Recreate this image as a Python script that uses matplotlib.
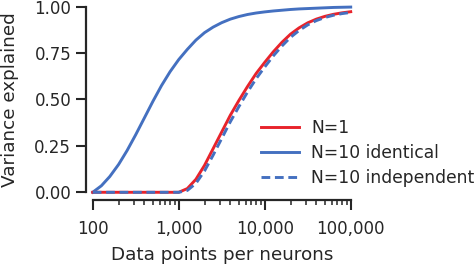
import numpy as np
import matplotlib.pyplot as plt
from matplotlib.ticker import FuncFormatter, LogLocator, NullFormatter

# data points per neuron (log spaced samples)
points = [100, 126, 158, 200, 251, 316, 398, 501, 631, 794,
          1000, 1259, 1585, 1995, 2512, 3162, 3981, 5012, 6310, 7943,
          10000, 12589, 15849, 19953, 25119, 31623, 39811, 50119, 63096, 79433,
          100000]

var_n1 = [0, 0, 0, 0, 0, 0, 0, 0, 0, 0,
          0, 0.02, 0.07, 0.145, 0.235, 0.325, 0.415, 0.495, 0.57, 0.64,
          0.70, 0.757, 0.808, 0.852, 0.886, 0.913, 0.933, 0.948, 0.959, 0.967,
          0.973]

var_n10_identical = [0, 0.035, 0.085, 0.15, 0.225, 0.31, 0.40, 0.49, 0.575, 0.65,
                     0.715, 0.77, 0.82, 0.86, 0.89, 0.914, 0.933, 0.947, 0.958, 0.966,
                     0.972, 0.977, 0.981, 0.985, 0.988, 0.99, 0.992, 0.994, 0.996, 0.997,
                     0.998]

var_n10_independent = [0, 0, 0, 0, 0, 0, 0, 0, 0, 0,
                       0, 0.01, 0.048, 0.115, 0.2, 0.29, 0.38, 0.462, 0.54, 0.612,
                       0.675, 0.735, 0.788, 0.835, 0.872, 0.902, 0.925, 0.942, 0.954, 0.963,
                       0.969]

labels = ['N=1', 'N=10 identical', 'N=10 independent']
y_ticks = [0, 0.25, 0.5, 0.75, 1.0]
x_ticks = [100, 1000, 10000, 100000]

red = '#e8232b'
blue = '#4470c0'
txt = '#262626'

plt.rcParams['font.family'] = 'DejaVu Sans'
plt.rcParams['font.size'] = 12

fig = plt.figure(figsize=(4.74, 2.68), dpi=100)
ax = fig.add_axes([0.1956, 0.2825, 0.5443, 0.6925])

ax.plot(points, var_n1, color=red, lw=2.1, label=labels[0], clip_on=False, zorder=3)
ax.plot(points, var_n10_identical, color=blue, lw=2.1, label=labels[1], clip_on=False, zorder=2)
ax.plot(points, var_n10_independent, color=blue, lw=2.1, ls=(0, (3, 1.6)), label=labels[2],
        clip_on=False, zorder=4)

ax.set_xscale('log')
ax.set_xlim(100, 100000)
ax.set_ylim(0, 1)
ax.set_xticks(x_ticks)
ax.xaxis.set_major_formatter(FuncFormatter(lambda v, p: '{:,.0f}'.format(v)))
ax.xaxis.set_minor_locator(LogLocator(base=10, subs=np.arange(2, 10)))
ax.xaxis.set_minor_formatter(NullFormatter())
ax.set_yticks(y_ticks)
ax.set_yticklabels(['%.2f' % v for v in y_ticks])

for side in ['top', 'right']:
    ax.spines[side].set_visible(False)
ax.spines['left'].set_position(('outward', 4.5))
ax.spines['bottom'].set_position(('outward', 5.5))
ax.spines['left'].set_bounds(0, 1)
ax.spines['bottom'].set_bounds(100, 100000)
for side in ['left', 'bottom']:
    ax.spines[side].set_linewidth(1.6)
    ax.spines[side].set_color(txt)

ax.tick_params(which='major', length=7, width=1.5, color=txt, labelcolor=txt, labelsize=12, pad=4)
ax.tick_params(axis='x', which='major', pad=7.5)
ax.tick_params(which='minor', length=3.5, width=1.1, color=txt)

ax.set_xlabel('Data points per neurons', color=txt, fontsize=13.2, labelpad=5.5)
ax.set_ylabel('Variance explained', color=txt, fontsize=13.2, labelpad=11)

ax.legend(loc='upper left', bbox_to_anchor=(261 / 474, 1 - 119 / 268), bbox_transform=fig.transFigure,
          frameon=False, borderpad=0, borderaxespad=0, handlelength=2.2, handletextpad=0.75,
          labelspacing=0.42, fontsize=12.3, labelcolor=txt)

fig.savefig('out.png', dpi=100)
